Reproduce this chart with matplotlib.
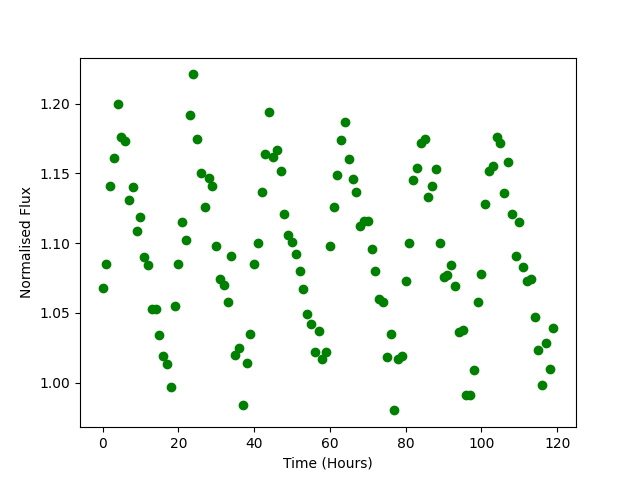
import matplotlib
matplotlib.use("Agg")
import matplotlib.pyplot as plt

hours = list(range(120))
flux = [1.068, 1.085, 1.141, 1.161, 1.200, 1.176, 1.173, 1.131, 1.140, 1.109,
        1.119, 1.090, 1.084, 1.053, 1.053, 1.034, 1.019, 1.013, 0.997, 1.055,
        1.085, 1.115, 1.102, 1.192, 1.221, 1.175, 1.150, 1.126, 1.147, 1.141,
        1.098, 1.074, 1.070, 1.058, 1.091, 1.020, 1.025, 0.984, 1.014, 1.035,
        1.085, 1.100, 1.137, 1.164, 1.194, 1.162, 1.167, 1.152, 1.121, 1.106,
        1.101, 1.092, 1.080, 1.067, 1.049, 1.042, 1.022, 1.037, 1.017, 1.022,
        1.098, 1.126, 1.149, 1.174, 1.187, 1.160, 1.146, 1.137, 1.112, 1.116,
        1.116, 1.096, 1.080, 1.060, 1.058, 1.018, 1.035, 0.980, 1.017, 1.019,
        1.073, 1.100, 1.145, 1.154, 1.172, 1.175, 1.133, 1.141, 1.153, 1.100,
        1.076, 1.077, 1.084, 1.069, 1.036, 1.038, 0.991, 0.991, 1.009, 1.058,
        1.078, 1.128, 1.152, 1.155, 1.176, 1.172, 1.136, 1.158, 1.121, 1.091,
        1.115, 1.083, 1.073, 1.074, 1.047, 1.023, 0.998, 1.028, 1.010, 1.039]

fig, ax = plt.subplots(figsize=(6.4, 4.8), dpi=100)
ax.plot(hours, flux, 'o', color="green")
ax.set_xlabel("Time (Hours)")
ax.set_ylabel("Normalised Flux")

fig.savefig("out.png")
